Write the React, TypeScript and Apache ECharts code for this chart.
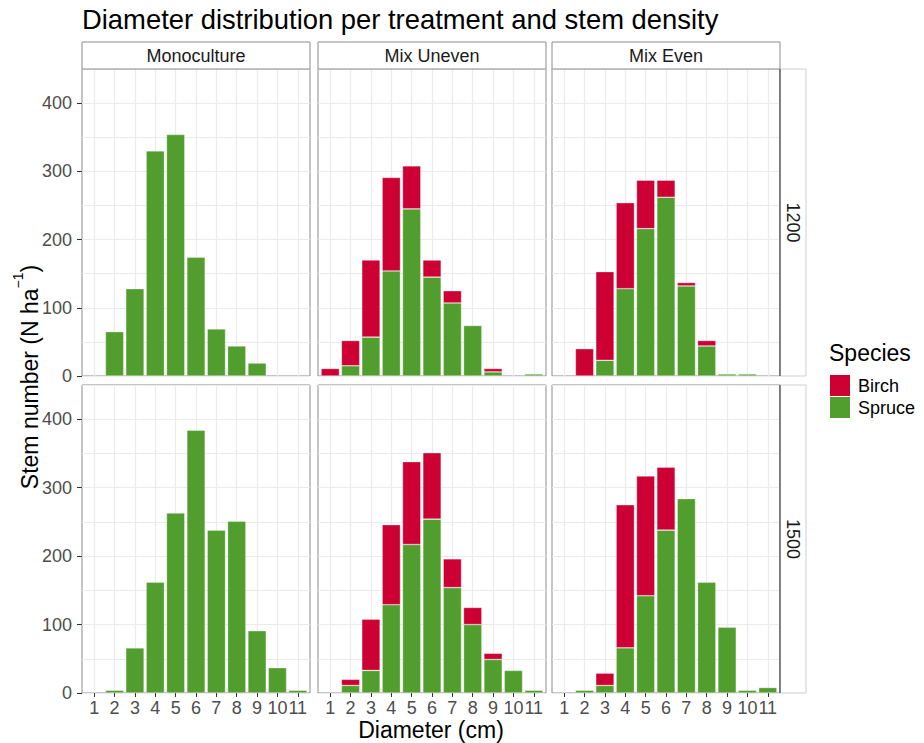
import React, { useEffect, useRef } from 'react';
import * as echarts from 'echarts';

const treatments = ['Monoculture', 'Mix Uneven', 'Mix Even'];
const densities = ['1200', '1500'];
const diameters = [1, 2, 3, 4, 5, 6, 7, 8, 9, 10, 11];
const yTickValues = [0, 100, 200, 300, 400];
const speciesNames = ['Birch', 'Spruce'];

// Stem numbers (N/ha) per diameter class 1..11
const spruceMono1200 = [0, 65, 128, 330, 354, 174, 69, 44, 19, 0, 0];
const birchMono1200 = [0, 0, 0, 0, 0, 0, 0, 0, 0, 0, 0];
const spruceUneven1200 = [0, 15, 57, 154, 245, 145, 107, 74, 6, 0, 3];
const birchUneven1200 = [11, 37, 113, 137, 63, 25, 18, 0, 5, 0, 0];
const spruceEven1200 = [0, 0, 23, 128, 216, 262, 132, 44, 3, 3, 0];
const birchEven1200 = [0, 40, 130, 126, 71, 25, 5, 8, 0, 0, 0];

const spruceMono1500 = [0, 4, 66, 162, 263, 384, 238, 251, 91, 37, 4];
const birchMono1500 = [0, 0, 0, 0, 0, 0, 0, 0, 0, 0, 0];
const spruceUneven1500 = [0, 11, 33, 129, 217, 254, 154, 100, 49, 33, 4];
const birchUneven1500 = [0, 9, 75, 117, 121, 97, 42, 25, 9, 0, 0];
const spruceEven1500 = [0, 4, 11, 66, 142, 238, 284, 162, 96, 4, 8];
const birchEven1500 = [0, 0, 18, 209, 175, 92, 0, 0, 0, 0, 0];

const panelData = [
  [spruceMono1200, birchMono1200],
  [spruceUneven1200, birchUneven1200],
  [spruceEven1200, birchEven1200],
  [spruceMono1500, birchMono1500],
  [spruceUneven1500, birchUneven1500],
  [spruceEven1500, birchEven1500],
];

const FONT = '"Liberation Sans", Arial, Helvetica, sans-serif';
const BIRCH = '#cc0033';
const SPRUCE = '#519e2f';
const GRIDLINE = '#ebebeb';

const colLeft = [82, 318, 552];
const colWidth = 228;
const rowTop = [69, 385];
const rowHeight = [307, 308];
const X_MIN = 0.4;
const X_MAX = 11.6;
const Y_MAX = 450;

function buildOption() {
  const grid: any[] = [];
  const xAxis: any[] = [];
  const yAxis: any[] = [];
  const series: any[] = [];
  const graphic: any[] = [];
  const barW = (0.9 * colWidth) / (X_MAX - X_MIN);

  for (let r = 0; r < 2; r++) {
    for (let c = 0; c < 3; c++) {
      const k = r * 3 + c;
      grid.push({
        left: colLeft[c],
        top: rowTop[r],
        width: colWidth,
        height: rowHeight[r],
        show: true,
        backgroundColor: '#ffffff',
        borderColor: '#8c8c8c',
        borderWidth: 1,
        containLabel: false,
      });
      const bottomRow = r === 1;
      xAxis.push({
        type: 'value',
        gridIndex: k,
        position: 'bottom',
        min: X_MIN,
        max: X_MAX,
        axisLine: { show: false },
        axisTick: {
          show: bottomRow,
          customValues: diameters,
          length: 4,
          lineStyle: { color: '#333333', width: 1 },
        },
        axisLabel: {
          show: bottomRow,
          customValues: diameters,
          fontSize: 18,
          color: '#4d4d4d',
          fontFamily: FONT,
          margin: 6,
        },
        splitLine: { show: true, lineStyle: { color: GRIDLINE, width: 1.2 } },
      });
      // grid-line axis
      yAxis.push({
        type: 'value',
        gridIndex: k,
        position: 'left',
        min: 0,
        max: Y_MAX,
        interval: 50,
        axisLine: { show: false },
        axisTick: { show: false },
        axisLabel: { show: false },
        splitLine: { show: true, lineStyle: { color: GRIDLINE, width: 1.2 } },
      });
      // tick / label axis
      const leftCol = c === 0;
      yAxis.push({
        type: 'value',
        gridIndex: k,
        position: 'left',
        min: 0,
        max: Y_MAX,
        interval: 50,
        axisLine: { show: false },
        axisTick: {
          show: leftCol,
          customValues: yTickValues,
          length: 5,
          lineStyle: { color: '#333333', width: 1 },
        },
        axisLabel: {
          show: leftCol,
          customValues: yTickValues,
          fontSize: 18,
          color: '#4d4d4d',
          fontFamily: FONT,
          margin: 10,
        },
        splitLine: { show: false },
      });
      const [spruce, birch] = panelData[k];
      // rows are [value, diameter] so the value (y) is the stacked dimension
      const toData = (arr: number[]) =>
        diameters.map((d, i) => [arr[i] === 0 ? null : arr[i], d]);
      series.push({
        type: 'bar',
        name: 'Spruce',
        xAxisIndex: k,
        yAxisIndex: 2 * k,
        stack: 'p' + k,
        barWidth: barW,
        encode: { x: 1, y: 0 },
        itemStyle: { color: SPRUCE, borderColor: 'rgba(255,255,255,0.55)', borderWidth: 0.6 },
        data: toData(spruce),
        z: 3,
      });
      series.push({
        type: 'bar',
        name: 'Birch',
        xAxisIndex: k,
        yAxisIndex: 2 * k,
        stack: 'p' + k,
        barWidth: barW,
        encode: { x: 1, y: 0 },
        itemStyle: { color: BIRCH, borderColor: 'rgba(255,255,255,0.55)', borderWidth: 0.6 },
        data: toData(birch),
        z: 3,
      });
    }
  }

  // top strips
  for (let c = 0; c < 3; c++) {
    graphic.push({
      type: 'rect',
      shape: { x: colLeft[c], y: 42, width: colWidth, height: 27 },
      style: { fill: '#ffffff', stroke: '#8c8c8c', lineWidth: 1 },
      z: 10,
    });
    graphic.push({
      type: 'text',
      x: colLeft[c] + colWidth / 2,
      y: 55.5,
      style: {
        text: treatments[c],
        fontSize: 18,
        fontFamily: FONT,
        fill: '#1a1a1a',
        textAlign: 'center',
        textVerticalAlign: 'middle',
      },
      z: 11,
    });
  }
  // right strips
  const stripX = colLeft[2] + colWidth;
  for (let r = 0; r < 2; r++) {
    graphic.push({
      type: 'rect',
      shape: { x: stripX, y: rowTop[r], width: 26, height: rowHeight[r] },
      style: { fill: '#ffffff', stroke: '#cfcfcf', lineWidth: 1 },
      z: 10,
    });
    graphic.push({
      type: 'line',
      shape: { x1: stripX, y1: rowTop[r], x2: stripX, y2: rowTop[r] + rowHeight[r] },
      style: { stroke: '#444444', lineWidth: 1.2 },
      z: 12,
    });
    graphic.push({
      type: 'text',
      x: stripX + 13,
      y: rowTop[r] + rowHeight[r] / 2,
      rotation: -Math.PI / 2,
      style: {
        text: densities[r],
        fontSize: 18,
        fontFamily: FONT,
        fill: '#1a1a1a',
        textAlign: 'center',
        textVerticalAlign: 'middle',
      },
      z: 11,
    });
  }
  // title
  graphic.push({
    type: 'text',
    x: 82,
    y: 19,
    style: {
      text: 'Diameter distribution per treatment and stem density',
      fontSize: 27.4,
      fontFamily: FONT,
      fill: '#000000',
      textAlign: 'left',
      textVerticalAlign: 'middle',
    },
  });
  // x axis title
  graphic.push({
    type: 'text',
    x: (colLeft[0] + colLeft[2] + colWidth) / 2,
    y: 730,
    style: {
      text: 'Diameter (cm)',
      fontSize: 23,
      fontFamily: FONT,
      fill: '#000000',
      textAlign: 'center',
      textVerticalAlign: 'middle',
    },
  });
  // y axis title
  graphic.push({
    type: 'text',
    x: 26,
    y: 377,
    rotation: Math.PI / 2,
    style: {
      text: '{a|Stem number (N ha}{b|−1}{a|)}',
      fontFamily: FONT,
      fill: '#000000',
      textAlign: 'center',
      textVerticalAlign: 'middle',
      rich: {
        a: { fontSize: 23, fontFamily: FONT, fill: '#000000', lineHeight: 30, verticalAlign: 'bottom' },
        b: { fontSize: 14, fontFamily: FONT, fill: '#000000', lineHeight: 16, verticalAlign: 'top' },
      },
    },
  });
  // legend title
  graphic.push({
    type: 'text',
    x: 829,
    y: 353,
    style: {
      text: 'Species',
      fontSize: 23,
      fontFamily: FONT,
      fill: '#000000',
      textAlign: 'left',
      textVerticalAlign: 'middle',
    },
  });

  return {
    animation: false,
    backgroundColor: '#ffffff',
    textStyle: { fontFamily: FONT },
    grid,
    xAxis,
    yAxis,
    series,
    graphic,
    legend: {
      data: speciesNames,
      orient: 'vertical',
      left: 830,
      top: 375,
      padding: 0,
      itemWidth: 20,
      itemHeight: 21,
      itemGap: 1,
      icon: 'rect',
      itemStyle: { borderWidth: 0 },
      textStyle: { fontSize: 18, fontFamily: FONT, color: '#000000', padding: [0, 0, 0, 3] },
      selectedMode: false,
    },
  };
}

export default function App() {
  const ref = useRef<HTMLDivElement>(null);
  useEffect(() => {
    if (!ref.current) return;
    const chart = echarts.init(ref.current, null, { renderer: 'svg' });
    chart.setOption(buildOption() as any);
    return () => chart.dispose();
  }, []);
  return (
    <div
      ref={ref}
      style={{ position: 'fixed', left: 0, top: 0, width: 924, height: 743, background: '#fff' }}
    />
  );
}
